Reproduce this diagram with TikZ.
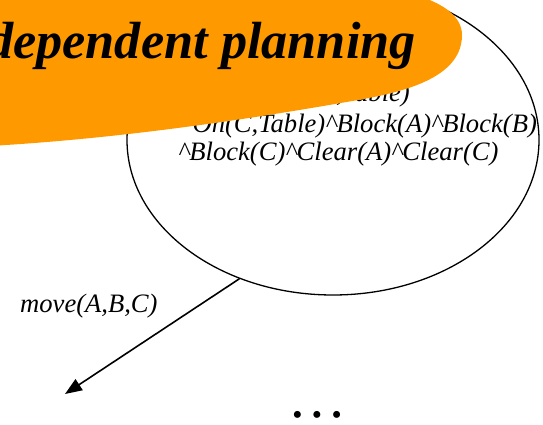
\documentclass[tikz,border=0pt]{standalone}
\usepackage{fontspec}
\setmainfont{Liberation Serif}
\usetikzlibrary{arrows.meta,shapes.geometric}
\definecolor{slideorange}{RGB}{255,153,0}
\tikzset{
  statebox/.style={ellipse,draw=black,line width=1.3pt,minimum width=412pt,minimum height=310pt,inner sep=0pt},
  facts/.style={inner sep=0pt,font=\fontsize{26.6}{30}\selectfont\itshape},
  titletext/.style={inner sep=0pt,font=\fontsize{52.3}{60}\selectfont\bfseries\itshape},
  moveline/.style={line width=1.6pt,-{Triangle[length=17pt,width=13pt]}},
  dotstext/.style={inner sep=0pt,font=\fontsize{29}{30}\selectfont}
}
\begin{document}
\begin{tikzpicture}[x=1pt,y=-1pt]
\useasboundingbox (0,0) rectangle (543,425);
\clip (0,0) rectangle (543,425);
\node[statebox] (st) at (333,140) {};
\node[facts,anchor=base east] (f1) at (410,102) {On(B,Table)};
\node[facts,anchor=base east] (f2) at (537,132) {On(C,Table)\^{}Block(A)\^{}Block(B)};
\node[facts,anchor=base west] (f3) at (178,160) {\^{}Block(C)\^{}Clear(A)\^{}Clear(C)};
\coordinate (tip) at (65,394);
\draw[moveline] (st.236) -- (tip);
\node[facts,anchor=base west] (mv) at (20,312) {move(A,B,C)};
\node[dotstext,anchor=base] (dots) at (317,424) {•\hspace{9.5pt}•\hspace{9.5pt}•};
\fill[slideorange] (-30,147) .. controls (120,140) and (265,116) .. (335,104)
  .. controls (380,96) and (462,86) .. (462,35)
  .. controls (462,15) and (440,2) .. (415,-5)
  -- (300,-40) -- (-40,-40) -- cycle;
\node[titletext,anchor=base east] (title) at (416,59) {Order-independent planning};
\end{tikzpicture}
\end{document}
